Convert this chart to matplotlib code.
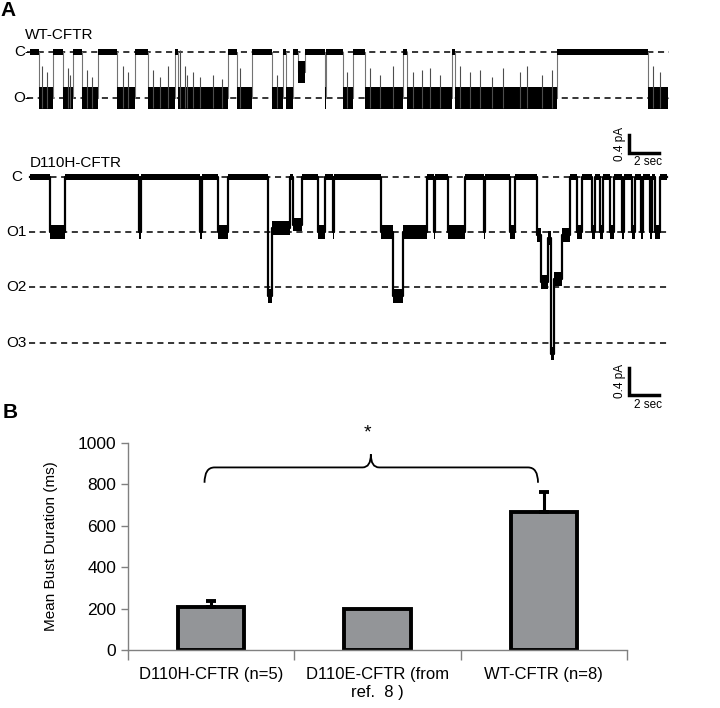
import numpy as np
import matplotlib.pyplot as plt
from matplotlib.path import Path
from matplotlib.patches import PathPatch

# ---- data ----
# WT-CFTR trace: dwell start times (s) and current level (pA)
wt_t = [0, 0.6, 1.53, 2.2, 2.87, 3.47, 4.53, 5.8, 7.0, 7.87, 9.67, 9.87, 13.2, 13.8,
        14.8, 16.13, 16.87, 17.07, 17.53, 17.87, 18.33, 19.67, 19.73, 20.87, 21.53,
        22.33, 24.87, 25.13, 28.13, 28.33, 35.13, 41.2]
wt_lvl = [0, -1.02, 0, -1.02, 0, -1.02, 0, -1.02, 0, -1.02, 0, -1.02, 0, -1.02,
          0, -1.02, 0, -1.02, 0, -0.45, 0, -1.02, 0, -1.02, 0,
          -1.02, 0, -1.02, 0, -1.02, 0, -1.02]
wt_end = 42.53
# brief closures inside WT bursts (s) and how far up they reach (pA)
wt_flick = [0.78, 1.11, 2.53, 2.67, 3.78, 4.11, 6.2, 6.53, 8.2, 8.67, 9.2, 10.0, 10.33,
            10.44, 10.87, 11.33, 12.2, 12.78, 14.0, 16.44, 21.11, 22.67, 23.33, 24.2,
            25.53, 26.13, 26.67, 27.33, 28.67, 29.33, 30.0, 30.8, 31.53, 32.67, 33.13,
            34.13, 34.8, 41.53, 42.0]
wt_flick_tip = [-0.3, -0.45, -0.35, -0.5, -0.4, -0.55, -0.3, -0.45, -0.4, -0.55, -0.3,
                0.05, -0.3, -0.5, -0.45, -0.55, -0.5, -0.6, -0.35, -0.5, -0.45, -0.35,
                -0.5, -0.3, -0.45, -0.4, -0.35, -0.5, -0.3, -0.45, -0.4, -0.55, -0.35,
                -0.45, -0.3, -0.5, -0.4, -0.3, -0.45]
wt_levels = [0, -1.02]
wt_level_names = ['C-', 'O-']

# D110H-CFTR trace
mut_t = [0, 1.33, 2.33, 7.27, 7.4, 11.33, 11.47, 12.53, 13.2, 15.87, 16.13, 17.33,
         17.53, 18.13, 19.2, 19.67, 20.2, 20.27, 23.4, 24.2, 24.87, 26.47, 26.93, 27.0,
         27.87, 29.0, 30.27, 30.33, 32.0, 32.33, 33.8, 34.07, 34.53, 34.73, 34.93,
         35.47, 36.0, 36.47, 36.8, 37.47, 37.67, 38.0, 38.2, 38.67, 38.93, 39.47, 39.6,
         40.13, 40.33, 40.73, 40.87, 41.33, 41.47, 41.67, 42.0]
mut_lvl = [0, -0.81, 0, -0.81, 0, -0.81, 0, -0.81, 0, -1.75, -0.75, 0,
           -0.7, 0, -0.81, 0, -0.81, 0, -0.81, -1.75, -0.81, 0, -0.81, 0,
           -0.81, 0, -0.81, 0, -0.81, 0, -0.85, -1.55, -0.9, -2.6, -1.5,
           -0.85, 0, -0.81, 0, -0.81, 0, -0.81, 0, -0.81, 0, -0.81, 0,
           -0.81, 0, -0.81, 0, -0.81, 0, -0.81, 0]
mut_end = 42.47
mut_levels = [0, -0.81, -1.62, -2.44]
mut_level_names = ['C', 'O1', 'O2', 'O3']

# Panel B
groups = ['D110H-CFTR (n=5)', 'D110E-CFTR (from\nref.  8 )', 'WT-CFTR (n=8)']
burst = [207, 200, 668]
burst_err = [30, 0, 97]

# ---- figure ----
W, H = 720, 708
fig = plt.figure(figsize=(W / 100, H / 100), dpi=100)
plt.rcParams['font.family'] = ['Liberation Sans', 'DejaVu Sans']


def px_rect(x0, y0, x1, y1):
    return [x0 / W, 1 - y1 / H, (x1 - x0) / W, (y1 - y0) / H]


def draw_trace(ax, t, lvl, t_end, hw_closed, hw_open, step_color, step_lw):
    tt = np.append(t, t_end)
    yy = np.append(lvl, lvl[-1])
    hw = np.where(yy == 0, hw_closed, hw_open)
    ax.fill_between(tt, yy - hw, yy + hw, step='post', color='black', lw=0, zorder=3)
    ax.step(tt, yy, where='post', color=step_color, lw=step_lw, zorder=2)


def scale_bar(ax, x, y, dy, label_y):
    ax.plot([x, x, x + 2], [y + dy, y, y], color='black', lw=2.5,
            solid_joinstyle='miter', clip_on=False)
    ax.text(x - 0.55, y + dy / 2, '0.4 pA', rotation=90, ha='center', va='center',
            fontsize=8.5)
    ax.text(x + 1.3, label_y, '2 sec', ha='center', va='top', fontsize=8.5)


# WT trace: C at y=52px, O at y=98px, 15 px per sec, t=0 at x=30px
ppA_wt = 46 / 1.02
ax1 = fig.add_axes(px_rect(0, 20, W, 165))
ax1.set_xlim(-30 / 15, (W - 30) / 15)
ax1.set_ylim(-(165 - 52) / ppA_wt, (52 - 20) / ppA_wt)
ax1.axis('off')
for lv, nm in zip(wt_levels, wt_level_names):
    ax1.plot([-0.2, 42.6], [lv, lv], ls=(0, (4, 3)), color='black', lw=1.1, zorder=1)
    ax1.text(0.0, lv, nm, ha='right', va='center', fontsize=11)
draw_trace(ax1, wt_t, wt_lvl, wt_end, 0.065, 0.24, '0.45', 0.8)
ax1.vlines(wt_flick, -1.25, wt_flick_tip, color='0.3', lw=0.8, zorder=4)
ax1.text(-0.35, 0.22, 'WT-CFTR', fontsize=11, ha='left', va='bottom')
scale_bar(ax1, 39.9, -(153 - 52) / ppA_wt, 0.4, -(156 - 52) / ppA_wt)
ax1.text(-1.45, (52 - 10) / ppA_wt, 'A', fontsize=15, fontweight='bold',
         ha='center', va='center')

# D110H trace: C at y=177px, 55 px per level
ppA_mut = 55 / 0.81
ax2 = fig.add_axes(px_rect(0, 150, W, 415))
ax2.set_xlim(-30 / 15, (W - 30) / 15)
ax2.set_ylim(-(415 - 177) / ppA_mut, (177 - 150) / ppA_mut)
ax2.axis('off')
for lv, nm in zip(mut_levels, mut_level_names):
    ax2.plot([-0.1, 42.6], [lv, lv], ls=(0, (4, 3)), color='black', lw=1.1, zorder=1)
    ax2.text(-0.55 if nm == 'C' else -0.2, lv, nm, ha='right', va='center', fontsize=11)
draw_trace(ax2, mut_t, mut_lvl, mut_end, 0.045, 0.1, 'black', 1.6)
ax2.text(0.0, 0.1, 'D110H-CFTR', fontsize=11, ha='left', va='bottom')
scale_bar(ax2, 39.9, -(395 - 177) / ppA_mut, 0.4, -(399 - 177) / ppA_mut)

# Panel B bar chart
ax3 = fig.add_axes(px_rect(128, 443, 627, 650))
x = np.arange(len(groups))
ax3.bar(x, burst, width=0.4, color='#939598', edgecolor='black', lw=2.8, zorder=2)
for xi, v, e in zip(x, burst, burst_err):
    if e > 0:
        ax3.errorbar(xi, v, yerr=[[0], [e]], fmt='none', ecolor='black', elinewidth=2.2,
                     capsize=3.5, capthick=2.8, zorder=3)
ax3.set_xlim(-0.5, 2.5)
ax3.set_ylim(0, 1000)
ax3.set_yticks(range(0, 1001, 200))
ax3.tick_params(axis='y', labelsize=12.5, color='0.5', length=5, width=1)
ax3.set_xticks(x)
ax3.set_xticklabels(groups, fontsize=12, linespacing=1.25)
ax3.tick_params(axis='x', length=0, pad=12)
ax3.set_xticks([-0.5, 0.5, 1.5, 2.5], minor=True)
ax3.tick_params(axis='x', which='minor', length=7, color='0.5', width=1)
for s in ['top', 'right']:
    ax3.spines[s].set_visible(False)
for s in ['left', 'bottom']:
    ax3.spines[s].set_color('0.5')
    ax3.spines[s].set_linewidth(1)
ax3.set_ylabel('Mean Bust Duration (ms)', fontsize=11, labelpad=14)

# curly bracket for significance
x0, x1, xm = -0.04, 1.965, 0.96
yb, ye, yt = 882, 808, 945
verts = [(x0, ye), (x0, yb), (x0 + 0.06, yb), (xm - 0.05, yb), (xm, yb), (xm, yt),
         (xm, yb), (xm + 0.05, yb), (x1 - 0.06, yb), (x1, yb), (x1, ye)]
codes = [Path.MOVETO, Path.CURVE3, Path.CURVE3, Path.LINETO, Path.CURVE3, Path.CURVE3,
         Path.CURVE3, Path.CURVE3, Path.LINETO, Path.CURVE3, Path.CURVE3]
ax3.add_patch(PathPatch(Path(verts, codes), fill=False, lw=1.3, color='black',
                        clip_on=False))
ax3.text(xm - 0.02, 1050, '*', fontsize=14, ha='center', va='center')
fig.text(10 / W, 1 - 412 / H, 'B', fontsize=15, fontweight='bold',
         ha='center', va='center')

fig.savefig('out.png', dpi=100)
